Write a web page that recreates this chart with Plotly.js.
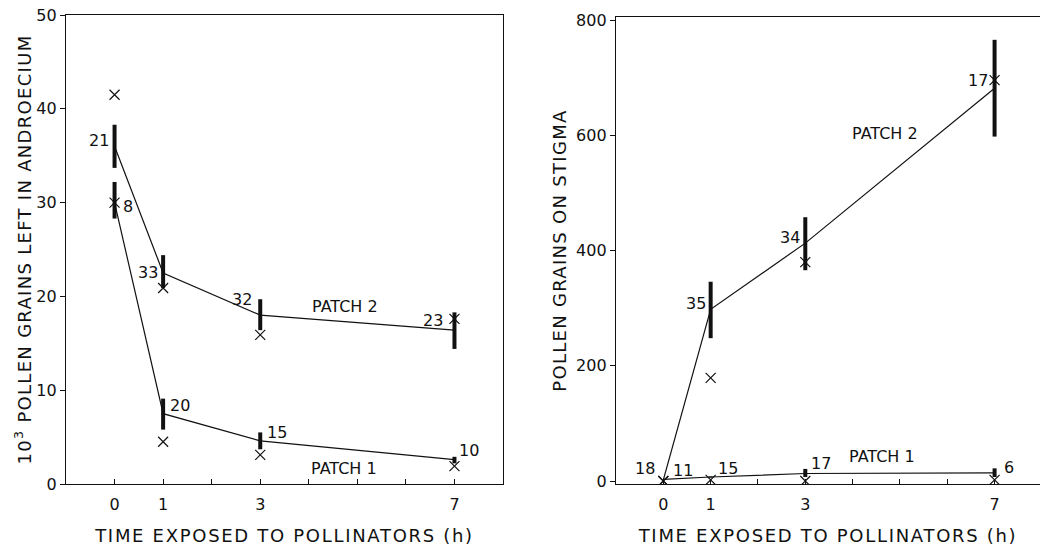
<!DOCTYPE html>
<html>
<head>
<meta charset="utf-8">
<script src="https://cdn.plot.ly/plotly-3.0.1.min.js"></script>
<style>
  html, body { margin: 0; padding: 0; background: #fff; }
  #chart { width: 1040px; height: 549px; }
  .xtitle, .x2title { letter-spacing: 1.7px; }
  .ytitle, .y2title { letter-spacing: 1.3px; }
</style>
</head>
<body>
<div id="chart"></div>
<script>
// ---------- data ----------
const times = [0, 1, 3, 7];
const xTickVals = [0, 1, 3, 7];
const xTickText = ['0', '1', '3', '7'];

// Left panel: 10^3 pollen grains left in androecium
const andPatch2Mean   = [36.0, 22.5, 18.0, 16.4];
const andPatch2Upper  = [38.3, 24.4, 19.7, 18.3];
const andPatch2Lower  = [33.7, 20.9, 16.4, 14.4];
const andPatch2Median = [41.5, 20.9, 15.9, 17.6];
const andPatch2N      = [21, 33, 32, 23];

const andPatch1Mean   = [30.0, 7.5, 4.6, 2.6];
const andPatch1Upper  = [32.2, 9.1, 5.5, 2.9];
const andPatch1Lower  = [28.3, 5.8, 3.7, 2.2];
const andPatch1Median = [30.0, 4.5, 3.1, 1.9];
const andPatch1N      = [8, 20, 15, 10];

// Right panel: pollen grains on stigma
const stgPatch2Mean   = [2, 298, 413, 682];
const stgPatch2Upper  = [2, 346, 458, 766];
const stgPatch2Lower  = [2, 248, 366, 598];
const stgPatch2Median = [0, 179, 380, 696];
const stgPatch2N      = [18, 35, 34, 17];

const stgPatch1Mean   = [3, 7, 13, 14];
const stgPatch1Upper  = [3, 8, 21, 22];
const stgPatch1Lower  = [3, 6, 7, 7];
const stgPatch1Median = [0, 2, 0, 2];
const stgPatch1N      = [11, 15, 17, 6];

const yTitleLeft  = '10<sup>3</sup> POLLEN GRAINS LEFT IN ANDROECIUM';
const yTitleRight = 'POLLEN GRAINS ON STIGMA';
const xTitle      = 'TIME EXPOSED TO POLLINATORS (h)';
const patchLabels = ['PATCH 1', 'PATCH 2'];

// ---------- styling ----------
const INK = '#111111';
const FONT = 'DejaVu Sans, Verdana, sans-serif';

function meanTrace(mean, upper, lower, xa, ya) {
  return {
    x: times, y: mean, xaxis: xa, yaxis: ya,
    type: 'scatter', mode: 'lines',
    line: { color: INK, width: 1.2 },
    error_y: {
      type: 'data', symmetric: false,
      array: upper.map((u, i) => u - mean[i]),
      arrayminus: lower.map((l, i) => mean[i] - l),
      color: INK, thickness: 4, width: 0
    },
    hoverinfo: 'skip', showlegend: false
  };
}
function medianTrace(vals, xa, ya) {
  return {
    x: times, y: vals, xaxis: xa, yaxis: ya,
    type: 'scatter', mode: 'markers',
    marker: { symbol: 'x-thin-open', size: 10, color: INK, line: { color: INK, width: 1.2 } },
    hoverinfo: 'skip', showlegend: false
  };
}

const data = [
  meanTrace(andPatch2Mean, andPatch2Upper, andPatch2Lower, 'x', 'y'),
  meanTrace(andPatch1Mean, andPatch1Upper, andPatch1Lower, 'x', 'y'),
  medianTrace(andPatch2Median, 'x', 'y'),
  medianTrace(andPatch1Median, 'x', 'y'),
  meanTrace(stgPatch2Mean, stgPatch2Upper, stgPatch2Lower, 'x2', 'y2'),
  meanTrace(stgPatch1Mean, stgPatch1Upper, stgPatch1Lower, 'x2', 'y2'),
  medianTrace(stgPatch2Median, 'x2', 'y2'),
  medianTrace(stgPatch1Median, 'x2', 'y2')
];

// label offsets (pixels) for sample-size annotations
const offAndP2 = [[-4, 6], [-3, 0], [-6, 16], [-9, 10]];
const offAndP1 = [[6, -4], [5, 8], [5, 8], [3, 9]];
const offStgP2 = [[-6, 11], [-3, 6], [-3, 6], [-5, 8]];
const offStgP1 = [[8, 9], [5, 8], [4, 10], [7, 5]];

function nLabels(nArr, mean, offs, xa, ya, side) {
  return nArr.map((n, i) => ({
    x: times[i], y: mean[i], xref: xa, yref: ya,
    text: String(n), showarrow: false,
    xanchor: side, yanchor: 'middle',
    xshift: offs[i][0], yshift: offs[i][1],
    font: { family: FONT, size: 16, color: INK }
  }));
}

const annotations = [
  ...nLabels(andPatch2N, andPatch2Mean, offAndP2, 'x', 'y', 'right'),
  ...nLabels(andPatch1N, andPatch1Mean, offAndP1, 'x', 'y', 'left'),
  ...nLabels(stgPatch2N, stgPatch2Mean, offStgP2, 'x2', 'y2', 'right'),
  ...nLabels(stgPatch1N, stgPatch1Mean, offStgP1, 'x2', 'y2', 'left'),
  { x: 4.75, y: 18.9, xref: 'x', yref: 'y', text: patchLabels[1], showarrow: false,
    font: { family: FONT, size: 16, color: INK } },
  { x: 4.72, y: 1.7, xref: 'x', yref: 'y', text: patchLabels[0], showarrow: false,
    font: { family: FONT, size: 16, color: INK } },
  { x: 4.68, y: 604, xref: 'x2', yref: 'y2', text: patchLabels[1], showarrow: false,
    font: { family: FONT, size: 16, color: INK } },
  { x: 4.62, y: 42, xref: 'x2', yref: 'y2', text: patchLabels[0], showarrow: false,
    font: { family: FONT, size: 16, color: INK } }
];

const tickFont = { family: FONT, size: 16, color: INK };
const titleFont = { family: FONT, size: 18, color: INK };

function xAxis(domain, range, mirror, anchor) {
  return {
    domain: domain, range: range, anchor: anchor,
    tickmode: 'array', tickvals: xTickVals, ticktext: xTickText,
    ticks: 'inside', ticklen: 5, tickwidth: 1, tickcolor: INK,
    ticklabelstandoff: 6,
    minor: { tickmode: 'linear', tick0: 0, dtick: 1, ticks: 'inside', ticklen: 5, tickwidth: 1, tickcolor: INK, showgrid: false },
    showline: true, linecolor: INK, linewidth: 1.2, mirror: mirror,
    showgrid: false, zeroline: false,
    tickfont: tickFont,
    title: { text: xTitle, font: titleFont, standoff: 16 },
    automargin: false, fixedrange: true
  };
}
function yAxis(domain, range, dtick, mirror, anchor) {
  return {
    domain: domain, range: range, anchor: anchor,
    tickmode: 'linear', tick0: 0, dtick: dtick,
    ticks: 'outside', ticklen: 5, tickwidth: 1, tickcolor: INK,
    showline: true, linecolor: INK, linewidth: 1.2, mirror: mirror,
    showgrid: false, zeroline: false,
    tickfont: tickFont,
    automargin: false, fixedrange: true
  };
}

const layout = {
  width: 1040, height: 549,
  margin: { l: 66, r: 0, t: 15, b: 65 },
  paper_bgcolor: '#ffffff', plot_bgcolor: '#ffffff',
  showlegend: false,
  font: { family: FONT, color: INK },
  xaxis: xAxis([0, 0.4487], [-1, 8], true, 'y'),
  yaxis: Object.assign(yAxis([0, 1], [0, 50], 10, true, 'x'),
    { title: { text: yTitleLeft, font: titleFont, standoff: 0 } }),
  xaxis2: xAxis([0.5647, 1], [-1, 7.96], true, 'y2'),
  yaxis2: Object.assign(yAxis([0, 0.9957], [-5.2, 805.6], 200, false, 'x2'),
    { title: { text: yTitleRight, font: titleFont, standoff: 4 } }),
  annotations: annotations
};

Plotly.newPlot('chart', data, layout, { staticPlot: true, displayModeBar: false });
</script>
</body>
</html>
